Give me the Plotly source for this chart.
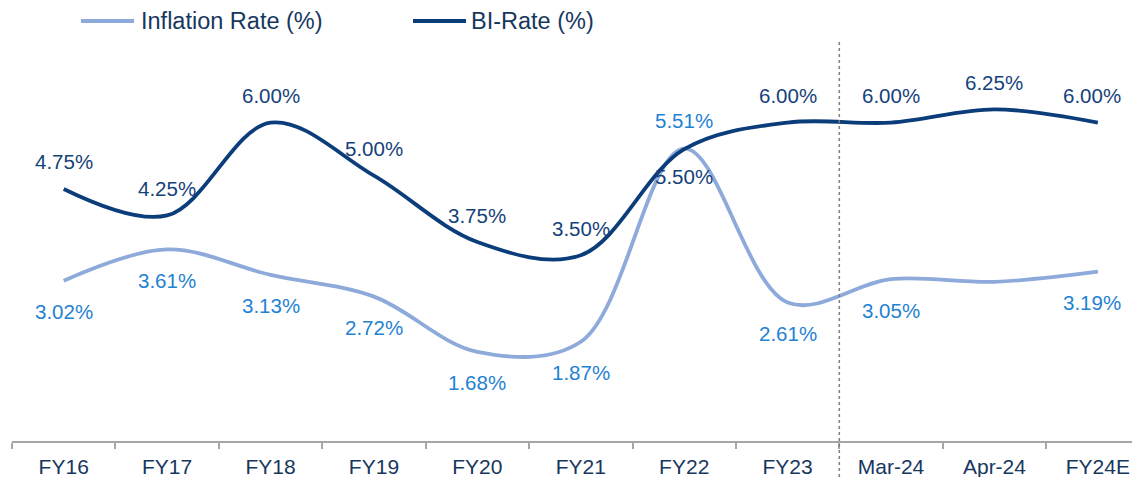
import plotly.graph_objects as go

categories = ["FY16", "FY17", "FY18", "FY19", "FY20", "FY21", "FY22", "FY23", "Mar-24", "Apr-24", "FY24E"]
inflation = [3.02, 3.61, 3.13, 2.72, 1.68, 1.87, 5.51, 2.61, 3.05, 3.00, 3.19]
bi_rate = [4.75, 4.25, 6.00, 5.00, 3.75, 3.50, 5.50, 6.00, 6.00, 6.25, 6.00]
# which inflation labels are shown (Apr-24 has none in the source)
inflation_label_shown = [True, True, True, True, True, True, True, True, True, False, True]
# label placement: inflation below except FY22; BI above except FY22
inflation_label_above = [False, False, False, False, False, False, True, False, False, False, False]
bi_label_above = [True, True, True, True, True, True, False, True, True, True, True]

INF_LINE = "#8eaadb"
BI_LINE = "#0b3d7a"
INF_TEXT = "#1f82d2"
BI_TEXT = "#15427a"
AXIS_TEXT = "#17375e"
FONT = "Liberation Sans, Arial, sans-serif"

W, H = 1132, 477
ML, MR, MT, MB = 12, 0, 43, 36
X0, X1 = -0.5, 10.33
Y0, Y1 = 0, 7.5

fig = go.Figure()
fig.add_trace(go.Scatter(x=categories, y=inflation, mode="lines", name="Inflation Rate (%)",
                         line=dict(color=INF_LINE, width=3.8, shape="spline", smoothing=1),
                         showlegend=False, hoverinfo="skip"))
fig.add_trace(go.Scatter(x=categories, y=bi_rate, mode="lines", name="BI-Rate (%)",
                         line=dict(color=BI_LINE, width=3.8, shape="spline", smoothing=1),
                         showlegend=False, hoverinfo="skip"))

last = categories[-1]
annotations = []
for c, v, show, up in zip(categories, inflation, inflation_label_shown, inflation_label_above):
    if not show:
        continue
    annotations.append(dict(x=c, y=v, xref="x", yref="y", text=f"{v:.2f}%", showarrow=False,
                            yshift=28 if up else -31, xshift=-6 if c == last else 0,
                            font=dict(family=FONT, size=20.5, color=INF_TEXT)))
for c, v, up in zip(categories, bi_rate, bi_label_above):
    annotations.append(dict(x=c, y=v, xref="x", yref="y", text=f"{v:.2f}%", showarrow=False,
                            yshift=27 if up else -27, xshift=-6 if c == last else 0,
                            font=dict(family=FONT, size=20.5, color=BI_TEXT)))

pw = W - ML - MR
ph = H - MT - MB


def px_to_paper_x(px):
    return (px - ML) / pw


def py_to_paper_y(py):
    return (H - MB - py) / ph


# manual legend
legend_items = [("Inflation Rate (%)", INF_LINE, 81, 134, 139), ("BI-Rate (%)", BI_LINE, 413, 466, 469)]
shapes = []
ly = py_to_paper_y(21)
for name, col, lx0, lx1, tx in legend_items:
    shapes.append(dict(type="line", xref="paper", yref="paper", x0=px_to_paper_x(lx0), x1=px_to_paper_x(lx1),
                       y0=ly, y1=ly, line=dict(color=col, width=4)))
    annotations.append(dict(x=px_to_paper_x(tx), y=ly, xref="paper", yref="paper", text=name, showarrow=False,
                            xanchor="left", yanchor="middle", font=dict(family=FONT, size=23.5, color=AXIS_TEXT)))

# dotted divider between FY23 and Mar-24
div_x = (7.5 - X0) / (X1 - X0)
shapes.append(dict(type="line", xref="paper", yref="paper", x0=div_x, x1=div_x,
                   y0=py_to_paper_y(H), y1=py_to_paper_y(42),
                   line=dict(color="#7f7f7f", width=1.5, dash="dot")))

fig.update_layout(
    width=W, height=H,
    margin=dict(l=ML, r=MR, t=MT, b=MB, autoexpand=False),
    paper_bgcolor="white", plot_bgcolor="white",
    showlegend=False,
    annotations=annotations,
    shapes=shapes,
    xaxis=dict(type="category", range=[X0, X1], showgrid=False, zeroline=False,
               showline=True, linecolor="#a6a6a6", linewidth=1.5,
               ticks="outside", tickson="boundaries", ticklen=6, tickcolor="#a6a6a6", tickwidth=1.5,
               ticklabelstandoff=6,
               tickfont=dict(family=FONT, size=21, color=AXIS_TEXT), automargin=False, fixedrange=True),
    yaxis=dict(range=[Y0, Y1], visible=False, showgrid=False, zeroline=False, fixedrange=True),
    font=dict(family=FONT),
)

fig.write_html("out.html", config={"displayModeBar": False},
               post_script="document.body.style.margin='0';document.body.style.overflow='hidden';")
